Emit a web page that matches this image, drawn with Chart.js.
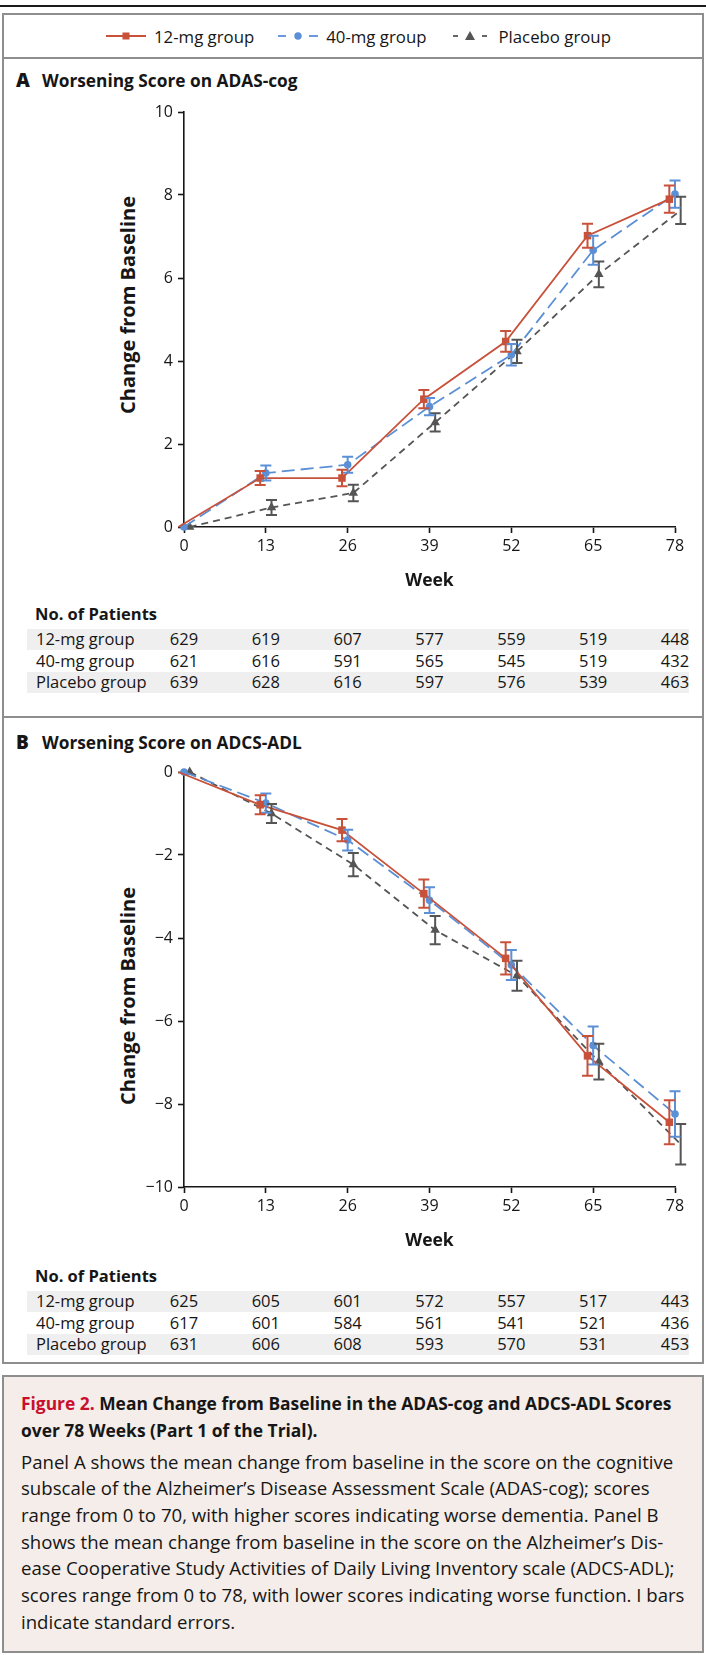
<!DOCTYPE html>
<html>
<head>
<meta charset="utf-8">
<script src="https://cdn.jsdelivr.net/npm/chart.js@4.4.1/dist/chart.umd.min.js"></script>
<style>
  body { margin: 0; background: #fff; font-family: 'Open Sans', sans-serif; color: #161616; }
  #page { position: relative; width: 706px; height: 1655px; overflow: hidden; }
  .abs { position: absolute; white-space: nowrap; }
  .rule { position: absolute; left: 0; width: 706px; height: 2px; top: 5px; background: #1a1a1a; }
  .frame { position: absolute; left: 2px; width: 702px; box-sizing: border-box; border: 2px solid #8e8e8e; }
  .hline { position: absolute; left: 2px; width: 702px; height: 2px; background: #8e8e8e; }
  .legend { position: absolute; left: 106px; top: 25px; height: 22px; display: flex; align-items: center; font-size: 16.8px; }
  .legend .item { display: flex; align-items: center; margin-right: 24px; }
  .legend svg { margin-right: 8px; }
  .head { font-weight: 700; font-size: 16.5px; line-height: 22px; }
  .panel { font-size: 17.3px; }
  .panel b { font-size: 19px; display: inline-block; width: 26px; }
  .ylab { font-weight: 700; font-size: 20px; line-height: 24px; transform: translate(-50%, -50%) rotate(-90deg); }
  .band { position: absolute; left: 27px; width: 662px; height: 21px; background: #efefef; }
  .cell { font-size: 16.5px; line-height: 22px; }
  .num { transform: translateX(-50%); }
  .cap { position: absolute; left: 2px; width: 702px; box-sizing: border-box; border: 2px solid #8e8e8e; background: #f4ede9; }
  .ct { font-weight: 700; font-size: 17.4px; line-height: 26px; }
  .ct span { color: #c8102e; }
  .cb { font-size: 18.6px; line-height: 26px; }
  canvas { position: absolute; left: 0; }
</style>
</head>
<body>
<div id="page">
  <div class="rule"></div>
  <div class="frame" style="top:13px;height:1351px"></div>
  <div class="hline" style="top:57px"></div>
  <div class="hline" style="top:716px"></div>

  <div class="legend">
    <div class="item">
      <svg width="40" height="12"><line x1="0" y1="6" x2="40" y2="6" stroke="#c8513a" stroke-width="1.8"/><rect x="16.5" y="2.5" width="7" height="7" fill="#c8513a"/></svg>
      12-mg group
    </div>
    <div class="item">
      <svg width="40" height="12"><line x1="0" y1="6" x2="8" y2="6" stroke="#5b8fd6" stroke-width="1.8"/><line x1="31" y1="6" x2="40" y2="6" stroke="#5b8fd6" stroke-width="1.8"/><circle cx="20" cy="6" r="3.7" fill="#5b8fd6"/></svg>
      40-mg group
    </div>
    <div class="item">
      <svg width="40" height="12"><line x1="3" y1="6" x2="8" y2="6" stroke="#555" stroke-width="1.8"/><line x1="32" y1="6" x2="37" y2="6" stroke="#555" stroke-width="1.8"/><polygon points="20,1 25,10 15,10" fill="#555"/></svg>
      Placebo group
    </div>
  </div>

  <div class="abs head panel" style="left:16px;top:69px"><b>A</b>Worsening Score on ADAS-cog</div>
  <div class="abs ylab" style="left:128px;top:305px">Change from Baseline</div>
  <canvas id="chartA" width="706" height="505" style="top:95px"></canvas>
  <div id="tableA"></div>

  <div class="abs head panel" style="left:16px;top:731px"><b>B</b>Worsening Score on ADCS-ADL</div>
  <div class="abs ylab" style="left:128px;top:996px">Change from Baseline</div>
  <canvas id="chartB" width="706" height="505" style="top:755px"></canvas>
  <div id="tableB"></div>

  <div class="cap" style="top:1375px;height:278px"></div>
  <div class="abs ct" style="left:21px;top:1390px"><span>Figure 2.</span> Mean Change from Baseline in the ADAS-cog and ADCS-ADL Scores</div>
  <div class="abs ct" style="left:21px;top:1417px">over 78 Weeks (Part 1 of the Trial).</div>
  <div class="abs cb" style="left:21px;top:1449px">Panel A shows the mean change from baseline in the score on the cognitive</div>
  <div class="abs cb" style="left:21px;top:1475px">subscale of the Alzheimer’s Disease Assessment Scale (ADAS-cog); scores</div>
  <div class="abs cb" style="left:21px;top:1502px">range from 0 to 70, with higher scores indicating worse dementia. Panel B</div>
  <div class="abs cb" style="left:21px;top:1529px">shows the mean change from baseline in the score on the Alzheimer’s Dis-</div>
  <div class="abs cb" style="left:21px;top:1555px">ease Cooperative Study Activities of Daily Living Inventory scale (ADCS-ADL);</div>
  <div class="abs cb" style="left:21px;top:1582px">scores range from 0 to 78, with lower scores indicating worse function. I bars</div>
  <div class="abs cb" style="left:21px;top:1609px">indicate standard errors.</div>
</div>

<script>
// ── Data ───────────────────────────────
const weeks = [0, 13, 26, 39, 52, 65, 78];
const groups = ['12-mg group', '40-mg group', 'Placebo group'];

// Panel A: ADAS-cog, mean change and standard error
const adas12 = [0, 1.18, 1.18, 3.08, 4.47, 7.02, 7.90];
const adas12Se = [0, 0.17, 0.20, 0.22, 0.25, 0.29, 0.33];
const adas40 = [0, 1.30, 1.50, 2.90, 4.15, 6.67, 8.02];
const adas40Se = [0, 0.18, 0.19, 0.21, 0.26, 0.35, 0.33];
const adasPbo = [0, 0.47, 0.82, 2.52, 4.23, 6.09, 7.63];
const adasPboSe = [0, 0.18, 0.20, 0.22, 0.28, 0.31, 0.33];
const adasTicks = [0, 2, 4, 6, 8, 10];

// Panel B: ADCS-ADL, mean change and standard error
const adl12 = [0, -0.79, -1.40, -2.93, -4.49, -6.84, -8.44];
const adl12Se = [0, 0.23, 0.27, 0.34, 0.39, 0.48, 0.53];
const adl40 = [0, -0.75, -1.64, -3.09, -4.65, -6.59, -8.24];
const adl40Se = [0, 0.23, 0.25, 0.31, 0.36, 0.46, 0.55];
const adlPbo = [0, -1.00, -2.23, -3.81, -4.91, -6.98, -8.97];
const adlPboSe = [0, 0.23, 0.28, 0.34, 0.36, 0.43, 0.49];
const adlTicks = [-10, -8, -6, -4, -2, 0];

// No. of patients
const nA12 = [629, 619, 607, 577, 559, 519, 448];
const nA40 = [621, 616, 591, 565, 545, 519, 432];
const nAPbo = [639, 628, 616, 597, 576, 539, 463];
const nB12 = [625, 605, 601, 572, 557, 517, 443];
const nB40 = [617, 601, 584, 561, 541, 521, 436];
const nBPbo = [631, 606, 608, 593, 570, 531, 453];

// ── Styles ─────────────────────────────
const RED = '#c8513a', BLUE = '#5b8fd6', GRAY = '#555555';
const dodge = [-0.9, 0, 0.9]; // weeks the groups are nudged apart

Chart.defaults.font.family = "'Open Sans', sans-serif";
Chart.defaults.color = '#161616';

const errorBars = {
  id: 'errorBars',
  afterDatasetsDraw(chart) {
    const { ctx, scales: { x, y } } = chart;
    for (let i = chart.data.datasets.length - 1; i >= 0; i--) {
      const ds = chart.data.datasets[i];
      ctx.save();
      ctx.strokeStyle = ds.borderColor;
      ctx.lineWidth = 2;
      ds.data.forEach((p, j) => {
        const e = ds.errors[j];
        if (!e) return;
        const px = x.getPixelForValue(p.x);
        const top = y.getPixelForValue(p.y + e), bot = y.getPixelForValue(p.y - e);
        ctx.beginPath();
        ctx.moveTo(px, top); ctx.lineTo(px, bot);
        ctx.moveTo(px - 5.5, top); ctx.lineTo(px + 5.5, top);
        ctx.moveTo(px - 5.5, bot); ctx.lineTo(px + 5.5, bot);
        ctx.stroke();
      });
      ctx.restore();
    }
  }
};

const series = (vals, se, k, color, dash, pointStyle, r) => ({
  data: weeks.map((w, i) => ({ x: w + dodge[k], y: vals[i] })),
  errors: se,
  borderColor: color, backgroundColor: color,
  borderWidth: 1.8, borderDash: dash,
  pointStyle, pointRadius: r, pointBorderWidth: 0, pointBackgroundColor: color,
  tension: 0, clip: false,
});

const axisLine = { color: '#161616', width: 1.6 };
const tickGrid = { drawOnChartArea: false, drawTicks: true, tickLength: 6, tickColor: '#161616', tickWidth: 1.6 };

function makeChart(id, sets, yTicks) {
  return new Chart(document.getElementById(id), {
    type: 'line',
    data: { datasets: sets },
    plugins: [errorBars],
    options: {
      responsive: false, animation: false, devicePixelRatio: 1,
      layout: { padding: { top: 17, right: 31, left: 0, bottom: 0 } },
      plugins: { legend: { display: false }, tooltip: { enabled: false } },
      scales: {
        x: {
          type: 'linear', min: 0, max: 78,
          afterBuildTicks: s => { s.ticks = weeks.map(v => ({ value: v })); },
          ticks: { font: { size: 16 }, padding: 4, color: '#161616' },
          grid: tickGrid, border: axisLine,
          title: { display: true, text: 'Week', font: { size: 17.5, weight: 'bold' }, padding: { bottom: 8 } },
          afterFit: s => { s.height = 73; },
        },
        y: {
          type: 'linear', min: yTicks[0], max: yTicks[yTicks.length - 1],
          afterBuildTicks: s => { s.ticks = yTicks.map(v => ({ value: v })); },
          ticks: { font: { size: 16 }, padding: 5, color: '#161616', callback: v => String(v).replace('-', '\u2212') },
          grid: tickGrid, border: axisLine,
          afterFit: s => { s.width = 184; },
        }
      }
    }
  });
}

// ── Panel A ────────────────────────────
const chartA = makeChart('chartA', [
  series(adas12, adas12Se, 0, RED, [], 'rect', 5.3),
  series(adas40, adas40Se, 1, BLUE, [13, 6], 'circle', 3.8),
  series(adasPbo, adasPboSe, 2, GRAY, [7, 5], 'triangle', 5.5),
], adasTicks);

// ── Panel B ────────────────────────────
const chartB = makeChart('chartB', [
  series(adl12, adl12Se, 0, RED, [], 'rect', 5.3),
  series(adl40, adl40Se, 1, BLUE, [13, 6], 'circle', 3.8),
  series(adlPbo, adlPboSe, 2, GRAY, [7, 5], 'triangle', 5.5),
], adlTicks);

// ── Patient tables, columns under the week ticks ──
function patientTable(el, chart, titleY, rows) {
  const host = document.getElementById(el);
  let html = `<div class="abs head" style="left:35px;top:${titleY - 11}px">No. of Patients</div>`;
  rows.forEach((row, r) => {
    const cy = titleY + 25 + r * 21.5;
    if (r !== 1) html += `<div class="band" style="top:${cy - 10.5}px"></div>`;
    html += `<div class="abs cell" style="left:36px;top:${cy - 11}px">${groups[r]}</div>`;
    row.forEach((n, i) => {
      const px = chart.scales.x.getPixelForValue(weeks[i]);
      html += `<div class="abs cell num" style="left:${px}px;top:${cy - 11}px">${n}</div>`;
    });
  });
  host.innerHTML = html;
}
patientTable('tableA', chartA, 614, [nA12, nA40, nAPbo]);
patientTable('tableB', chartB, 1276, [nB12, nB40, nBPbo]);
</script>
</body>
</html>
